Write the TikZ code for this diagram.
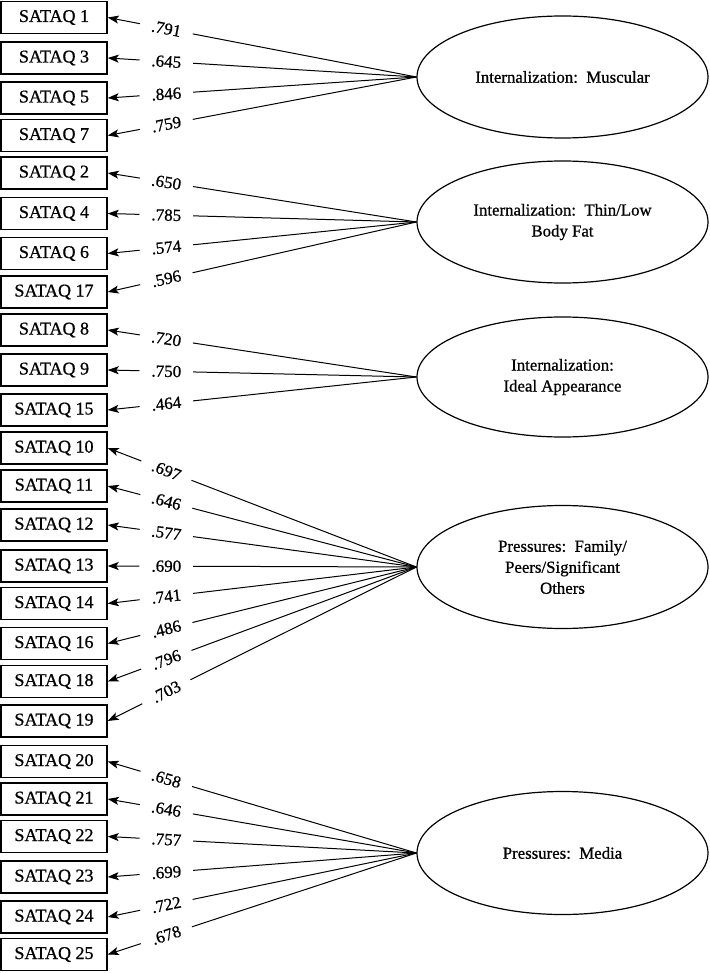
\documentclass[tikz,border=0pt]{standalone}
\usepackage{fontspec}
\setmainfont{Liberation Serif}[FakeBold=0.8]
\usetikzlibrary{shapes.geometric,arrows.meta}
\begin{document}
\begin{tikzpicture}[x=1pt,y=-1pt,
  itembox/.style={draw,line width=1.4pt,minimum width=106pt,minimum height=32pt,inner sep=0pt,font=\fontsize{18}{20}\selectfont},
  factor/.style={draw,ellipse,line width=1.2pt,minimum width=291pt,minimum height=122pt,inner sep=0pt,align=center,font=\fontsize{16.8}{21}\selectfont},
  load/.style={inner xsep=1pt,inner ysep=0pt,outer xsep=11pt,outer ysep=0pt,sloped,pos=0.81,font=\fontsize{17}{18}\selectfont},
  path/.style={line width=1pt},
  tip/.style={line width=1pt,-{Stealth[length=11pt,width=8pt,inset=2.5pt]}}]
\useasboundingbox (0,0) rectangle (709,973);
% items
\foreach \n/\y in {1/17.5,3/58,5/98,7/135.5,2/173,4/213.5,6/253.5,17/292,8/330,9/370,15/410,10/448,11/486,12/525,13/566,14/603.5,16/643.5,18/681.5,19/721,20/761.5,21/799,22/836.5,23/877,24/917,25/954.5}
  \node[itembox] (q\n) at (54,\y) {SATAQ \n};
% factors
\node[factor] (f1) at (562.5,77) {Internalization:\ \ Muscular};
\node[factor] (f2) at (562.5,222) {Internalization:\ \ Thin/Low\\Body Fat};
\node[factor,minimum height=120pt] (f3) at (562.5,377) {Internalization:\\Ideal Appearance};
\node[factor,minimum height=123pt] (f4) at (562.5,567) {Pressures:\ \ Family/\\Peers/Significant\\Others};
\node[factor,minimum height=123pt] (f5) at (562.5,853) {Pressures:\ \ Media};
% loadings
\foreach \f/\n/\v in {f1/1/.791,f1/3/.645,f1/5/.846,f1/7/.759,
  f2/2/.650,f2/4/.785,f2/6/.574,f2/17/.596,
  f3/8/.720,f3/9/.750,f3/15/.464,
  f4/10/.697,f4/11/.646,f4/12/.577,f4/13/.690,f4/14/.741,f4/16/.486,f4/18/.796,f4/19/.703,
  f5/20/.658,f5/21/.646,f5/22/.757,f5/23/.699,f5/24/.722,f5/25/.678}
{
  \path (\f.west) -- node[load] (l\n) {\v} (q\n.east);
  \draw[path] (\f.west) -- (l\n);
  \draw[tip] (l\n) -- (q\n.east);
}
\end{tikzpicture}
\end{document}
